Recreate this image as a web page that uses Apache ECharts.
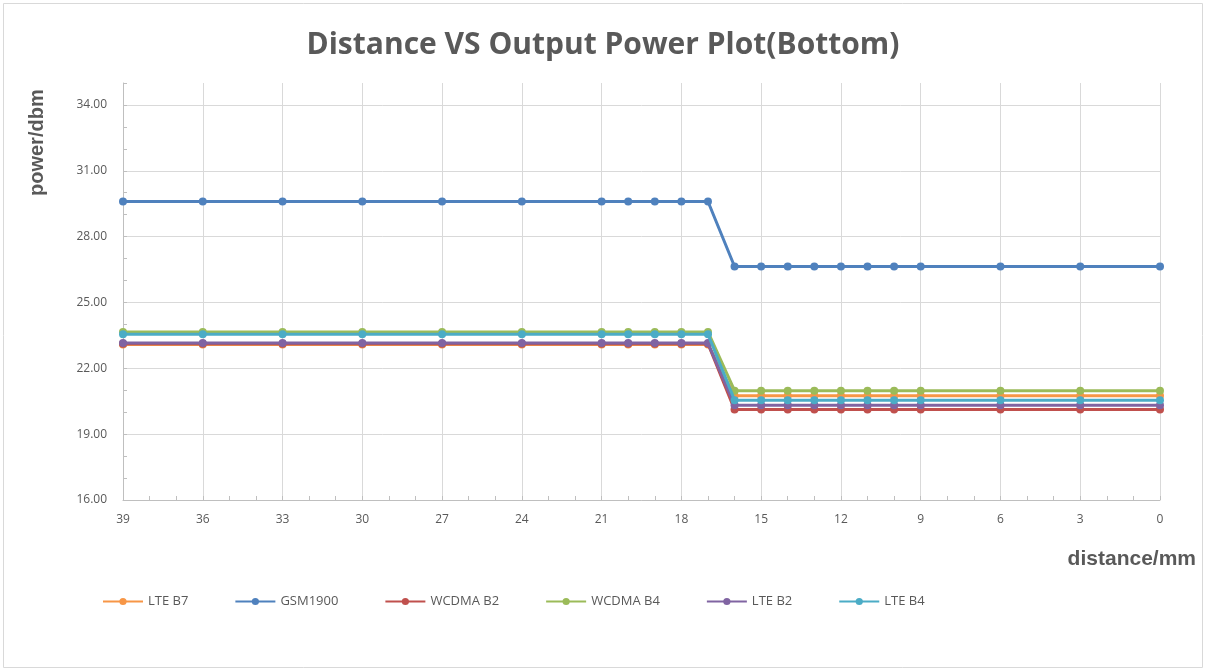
<!DOCTYPE html>
<html>
<head>
<meta charset="utf-8">
<script src="https://cdn.jsdelivr.net/npm/echarts@6/dist/echarts.min.js"></script>
<style>
html,body{margin:0;padding:0;background:#fff;}
#chart{width:1206px;height:672px;}
</style>
</head>
<body>
<div id="chart"></div>
<script>
const distances = [39,36,33,30,27,24,21,20,19,18,17,16,15,14,13,12,11,10,9,6,3,0];
const seriesNames = ['LTE B7','GSM1900','WCDMA B2','WCDMA B4','LTE B2','LTE B4'];
const lteB7   = [23.08,23.08,23.08,23.08,23.08,23.08,23.08,23.08,23.08,23.08,23.08,20.75,20.75,20.75,20.75,20.75,20.75,20.75,20.75,20.75,20.75,20.75];
const gsm1900 = [29.6,29.6,29.6,29.6,29.6,29.6,29.6,29.6,29.6,29.6,29.6,26.64,26.64,26.64,26.64,26.64,26.64,26.64,26.64,26.64,26.64,26.64];
const wcdmaB2 = [23.12,23.12,23.12,23.12,23.12,23.12,23.12,23.12,23.12,23.12,23.12,20.12,20.12,20.12,20.12,20.12,20.12,20.12,20.12,20.12,20.12,20.12];
const wcdmaB4 = [23.66,23.66,23.66,23.66,23.66,23.66,23.66,23.66,23.66,23.66,23.66,20.98,20.98,20.98,20.98,20.98,20.98,20.98,20.98,20.98,20.98,20.98];
const lteB2   = [23.15,23.15,23.15,23.15,23.15,23.15,23.15,23.15,23.15,23.15,23.15,20.32,20.32,20.32,20.32,20.32,20.32,20.32,20.32,20.32,20.32,20.32];
const lteB4   = [23.55,23.55,23.55,23.55,23.55,23.55,23.55,23.55,23.55,23.55,23.55,20.55,20.55,20.55,20.55,20.55,20.55,20.55,20.55,20.55,20.55,20.55];
const yTicks = ['16.00','19.00','22.00','25.00','28.00','31.00','34.00'];
const colors = ['#F79646','#4F81BD','#C0504D','#9BBB59','#8064A2','#4BACC6'];
const allValues = [lteB7, gsm1900, wcdmaB2, wcdmaB4, lteB2, lteB4];

const chart = echarts.init(document.getElementById('chart'));
const series = seriesNames.map((name, i) => ({
  name: name,
  type: 'line',
  data: distances.map((d, j) => [d, allValues[i][j]]),
  symbol: 'circle',
  symbolSize: 8,
  lineStyle: {width: 3, color: colors[i]},
  itemStyle: {color: colors[i]},
  emphasis: {disabled: true},
  animation: false,
  z: 2 + i
}));

chart.setOption({
  animation: false,
  color: colors,
  title: {
    text: 'Distance VS Output Power Plot(Bottom)',
    left: 'center',
    top: 25,
    textStyle: {fontFamily: 'Open Sans', fontWeight: 'bold', fontSize: 30, color: '#595959'}
  },
  legend: {
    data: seriesNames,
    left: 97,
    top: 590,
    itemGap: 46,
    itemWidth: 40,
    itemHeight: 9,
    textStyle: {fontFamily: 'Open Sans', fontSize: 13, color: '#595959'}
  },
  grid: {left: 123, right: 46, top: 83, bottom: 172, containLabel: false},
  xAxis: {
    type: 'value',
    inverse: true,
    min: 0, max: 39, interval: 3,
    axisLine: {show: true, onZero: false, lineStyle: {color: '#bfbfbf', width: 1}},
    axisTick: {show: true, inside: true, length: 4, lineStyle: {color: '#bfbfbf'}},
    minorTick: {show: true, splitNumber: 3, length: 4, lineStyle: {color: '#bfbfbf'}},
    axisLabel: {margin: 14, fontFamily: 'Open Sans', fontSize: 12, color: '#595959'},
    splitLine: {show: true, lineStyle: {color: '#d9d9d9', width: 1}}
  },
  yAxis: {
    type: 'value',
    min: 16, max: 35, interval: 3,
    axisLine: {show: true, onZero: false, lineStyle: {color: '#bfbfbf', width: 1}},
    axisTick: {show: true, inside: true, length: 4, lineStyle: {color: '#bfbfbf'}},
    minorTick: {show: true, splitNumber: 3, length: 4, lineStyle: {color: '#bfbfbf'}},
    axisLabel: {
      margin: 16, fontFamily: 'Open Sans', fontSize: 12, color: '#595959',
      formatter: v => { const s = v.toFixed(2); return yTicks.indexOf(s) >= 0 ? s : ''; }
    },
    splitLine: {show: true, showMaxLine: false, lineStyle: {color: '#d9d9d9', width: 1}}
  },
  graphic: [
    {type: 'rect', shape: {x: 3.5, y: 3.5, width: 1199, height: 664}, style: {fill: 'none', stroke: '#d9d9d9', lineWidth: 1}, silent: true, z: -1},
    {type: 'text', x: 27, y: 196, rotation: Math.PI / 2, style: {text: 'power/dbm', fontFamily: 'Liberation Sans', fontWeight: 'bold', fontSize: 20, fill: '#595959', textAlign: 'left', textVerticalAlign: 'top'}},
    {type: 'text', x: 1196, y: 559, style: {text: 'distance/mm', fontFamily: 'Liberation Sans', fontWeight: 'bold', fontSize: 21, fill: '#595959', textAlign: 'right', textVerticalAlign: 'middle'}}
  ],
  series: series
});
</script>
</body>
</html>
